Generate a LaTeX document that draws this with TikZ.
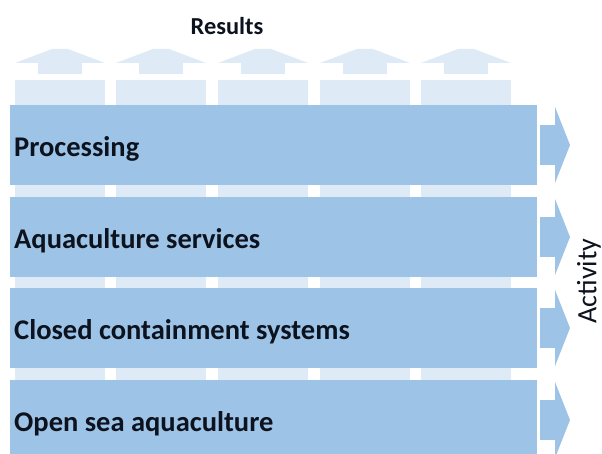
\documentclass[tikz,border=0pt]{standalone}
\usepackage{fontspec}
\setmainfont{Carlito}
\definecolor{rowblue}{RGB}{157,195,230}
\definecolor{colblue}{RGB}{222,235,247}
\definecolor{txt}{RGB}{12,18,30}
\begin{document}
\begin{tikzpicture}[x=1pt,y=-1pt,
  rowbox/.style={fill=rowblue, draw=none, anchor=north west, minimum width=527pt, minimum height=80pt, inner sep=0pt},
  colbox/.style={fill=colblue, draw=none, anchor=north west, minimum width=90pt, minimum height=380pt, inner sep=0pt},
  rowlabel/.style={anchor=west, font=\fontsize{28.5}{32}\selectfont\bfseries, text=txt, inner sep=0pt},
  uparrow/.style={fill=colblue, draw=none},
  rarrow/.style={fill=rowblue, draw=none}]
\useasboundingbox (0,0) rectangle (602,454);
\clip (0,0) rectangle (602,454);
\fill[white] (0,0) rectangle (602,454);
% columns with up arrows
\foreach \i/\l in {1/15,2/116,3/218,4/320,5/421}{
  \node[colbox] (col\i) at (\l,80) {};
  \fill[uparrow] (\l,63) -- (\l+37,49) -- (\l+53,49) -- (\l+90,63) -- cycle;
  \fill[uparrow] (\l+23,62) rectangle (\l+67,74);
}
\node[font=\fontsize{24.4}{28}\selectfont\bfseries, text=txt] (results) at (227,26) {Results};
% rows
\foreach \i/\t in {1/105,2/197,3/288,4/380}{
  \node[rowbox] (row\i) at (10,\t) {};
  \fill[rarrow] (540,\t+20) rectangle (555,\t+60);
  \fill[rarrow] (555,\t+2) -- (570,\t+40) -- (555,\t+78) -- cycle;
}
\node[rowlabel] (l1) at ([xshift=4pt,yshift=-4pt]row1.west) {Processing};
\node[rowlabel] (l2) at ([xshift=4pt,yshift=-4pt]row2.west) {Aquaculture services};
\node[rowlabel] (l3) at ([xshift=4pt,yshift=-4pt]row3.west) {Closed containment systems};
\node[rowlabel] (l4) at ([xshift=4pt,yshift=-4pt]row4.west) {Open sea aquaculture};
\node[font=\fontsize{28}{32}\selectfont, text=txt, rotate=90] (act) at (589,281) {Activity};
\end{tikzpicture}
\end{document}
